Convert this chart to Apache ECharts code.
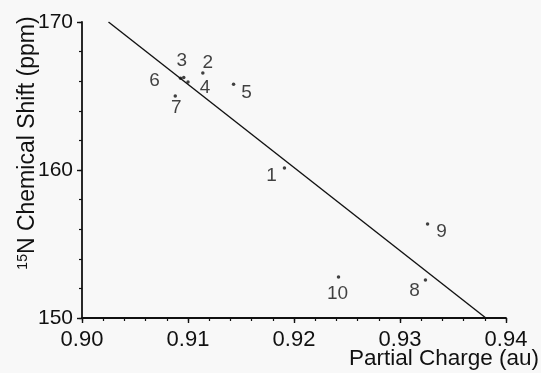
<!DOCTYPE html>
<html>
<head>
<meta charset="utf-8">
<script src="https://cdn.jsdelivr.net/npm/echarts@6/dist/echarts.min.js"></script>
<style>
html,body{margin:0;padding:0;background:#f8f8f8;}
#c{width:541px;height:373px;}
</style>
</head>
<body>
<div id="c"></div>
<script>
// Data
var pointIds = ['1','2','3','4','5','6','7','8','9','10'];
var partialCharge = [0.9191, 0.9114, 0.9096, 0.9100, 0.9143, 0.9093, 0.9088, 0.9324, 0.9326, 0.9242];
var chemicalShift = [160.14, 166.55, 166.25, 165.95, 165.8, 166.2, 165.0, 152.57, 156.35, 152.77];
var fitLineX = [0.9025, 0.9381];
var fitLineY = [170, 150];
var xTicks = ['0.90','0.91','0.92','0.93','0.94'];
var yTicks = ['150','160','170'];
var xTitle = 'Partial Charge (au)';
var yTitleSup = '15';
var yTitleMain = 'N Chemical Shift (ppm)';

// label offsets (styling only)
var labelOffsets = [[-13,8],[5,-10],[-2,-17],[17,6],[13,9],[-26,3],[1,12],[-11,11],[14,8],[-1,17]];

var FONT = 'Liberation Sans';
var pts = pointIds.map(function(id, i){
  return {
    value: [partialCharge[i], chemicalShift[i]],
    name: id,
    label: {show: true, position: 'inside', offset: labelOffsets[i], formatter: id}
  };
});

var lineCol = '#111';
var chart = echarts.init(document.getElementById('c'));
chart.setOption({
  backgroundColor: '#f8f8f8',
  animation: false,
  grid: {left: 82, right: 35, top: 22, bottom: 55, containLabel: false, outerBoundsMode: 'none'},
  xAxis: [{
    type: 'value', min: 0.90, max: 0.94, interval: 0.01, position: 'bottom',
    axisLine: {lineStyle: {color: lineCol, width: 1.8}},
    axisTick: {show: true, inside: false, length: 5, lineStyle: {color: lineCol, width: 1.4}},
    splitLine: {show: false},
    axisLabel: {color: lineCol, fontFamily: FONT, fontSize: 22, margin: 11,
      formatter: function(v){ var s = v.toFixed(2); return xTicks.indexOf(s) >= 0 ? s : ''; }}
  }, {
    type: 'value', min: 0.90, max: 0.94, interval: 0.002, position: 'bottom',
    axisLine: {show: false},
    axisTick: {show: true, inside: false, length: 3, lineStyle: {color: lineCol, width: 1.2}},
    splitLine: {show: false},
    axisLabel: {show: false}
  }],
  yAxis: [{
    type: 'value', min: 150, max: 170, interval: 10, position: 'left',
    axisLine: {show: true, lineStyle: {color: lineCol, width: 1.8}},
    axisTick: {show: true, inside: false, length: 5, lineStyle: {color: lineCol, width: 1.4}},
    splitLine: {show: false},
    axisLabel: {color: lineCol, fontFamily: FONT, fontSize: 21, margin: 9,
      formatter: function(v){ var s = String(v); return yTicks.indexOf(s) >= 0 ? s : ''; }}
  }, {
    type: 'value', min: 150, max: 170, interval: 2, position: 'left',
    axisLine: {show: false},
    axisTick: {show: true, inside: false, length: 3, lineStyle: {color: lineCol, width: 1.2}},
    splitLine: {show: false},
    axisLabel: {show: false}
  }],
  graphic: [{
    type: 'text',
    x: 28, y: 143,
    rotation: Math.PI / 2,
    style: {
      text: '{sup|' + yTitleSup + '}{b|' + yTitleMain + '}',
      align: 'center', verticalAlign: 'middle',
      fill: lineCol,
      font: '23px "Liberation Sans"',
      rich: {
        sup: {fontFamily: FONT, fontSize: 14, fill: lineCol, padding: [0,0,9,0]},
        b: {fontFamily: FONT, fontSize: 23, fill: lineCol}
      }
    }
  }, {
    type: 'text',
    right: 2, top: 347,
    style: {
      text: xTitle,
      fill: lineCol,
      font: '22.5px "Liberation Sans"'
    }
  }],
  series: [
    {
      type: 'line',
      data: fitLineX.map(function(x, i){ return [x, fitLineY[i]]; }),
      showSymbol: false, symbol: 'none',
      lineStyle: {color: lineCol, width: 1.4},
      z: 2
    },
    {
      type: 'scatter',
      data: pts,
      symbol: 'circle', symbolSize: 3.5,
      itemStyle: {color: lineCol},
      label: {color: lineCol, fontFamily: FONT, fontSize: 19},
      z: 3
    }
  ]
});
</script>
</body>
</html>
